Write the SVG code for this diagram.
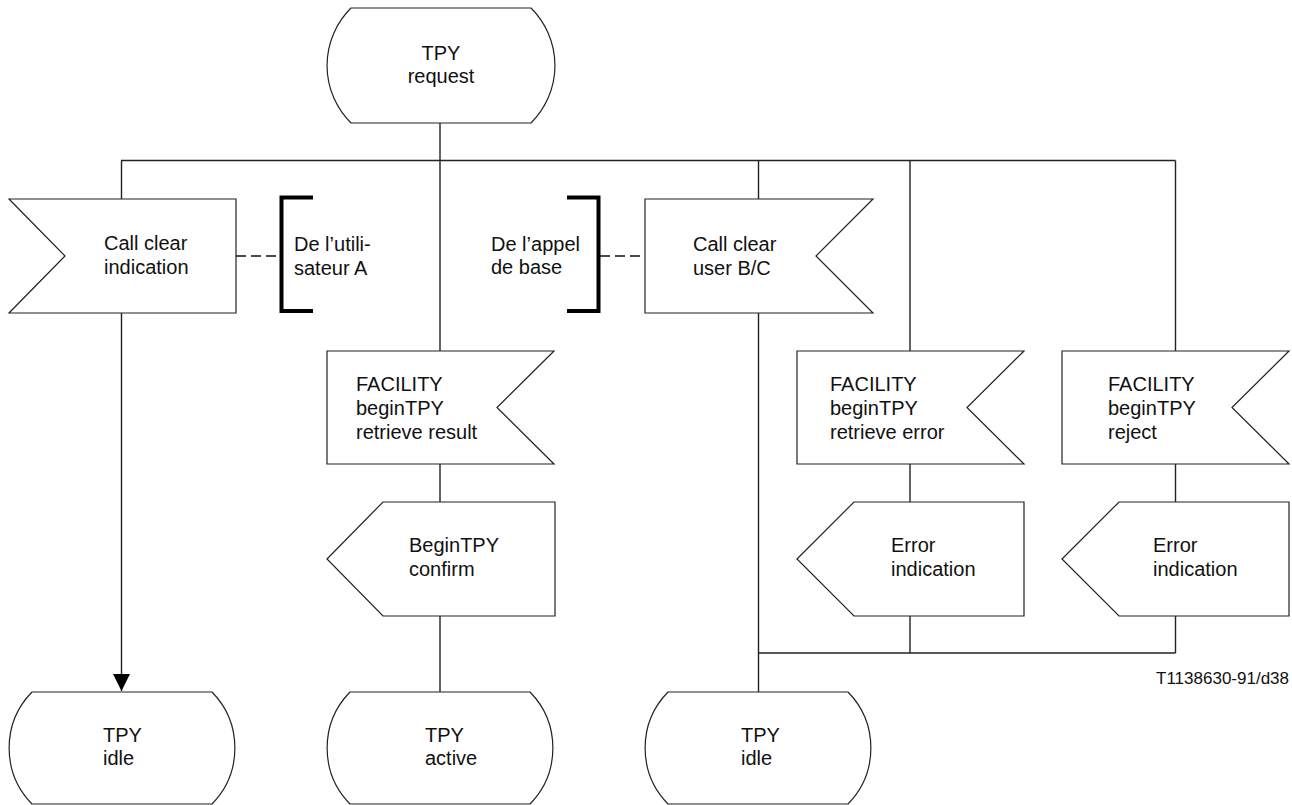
<svg xmlns="http://www.w3.org/2000/svg" width="1292" height="805" viewBox="0 0 1292 805">
<style>
.shape{fill:#fff;stroke:#222;stroke-width:1.2}
.ln{fill:none;stroke:#222;stroke-width:1.4}
.dash{fill:none;stroke:#111;stroke-width:1.6;stroke-dasharray:10,5}
.br{fill:none;stroke:#000;stroke-width:4}
text{font-family:"Liberation Sans",Arial,sans-serif;font-size:20px;fill:#111}
.c{text-anchor:middle}
.lbl{font-size:17px;text-anchor:end}
</style>
<defs>
<marker id="arr" markerWidth="18" markerHeight="18" refX="17" refY="8.5" orient="auto" markerUnits="userSpaceOnUse">
<path d="M0,0 L17,8.5 L0,17 Z" fill="#000"/>
</marker>
</defs>
<g id="connectors">
<path class="ln" d="M440,123 V351"/>
<path class="ln" d="M121,160.5 H1175.5"/>
<path class="ln" d="M121.5,160.5 V199"/>
<path class="ln" d="M121.5,313 V691" marker-end="url(#arr)"/>
<path class="ln" d="M758.5,160.5 V199"/>
<path class="ln" d="M758.5,313 V692"/>
<path class="ln" d="M910,160.5 V351 M910,464 V502 M910,616 V653"/>
<path class="ln" d="M1175.5,160.5 V351 M1175.5,464 V502 M1175.5,616 V653"/>
<path class="ln" d="M758.5,653 H1175.5"/>
<path class="ln" d="M440,464 V502 M440,616 V692"/>
<path class="dash" d="M236,256 H280"/>
<path class="dash" d="M600,256 H645"/>
</g>
<g id="state_request">
<path class="shape" d="M351,8 H531 A81 81 0 0 1 531,123 H351 A81 81 0 0 1 351,8 Z"/>
<text class="c" x="441" y="60">TPY</text>
<text class="c" x="441" y="83">request</text>
</g>
<g id="in_callclear_a">
<polygon class="shape" points="9,199 236,199 236,313 9,313 65,256"/>
<text x="104" y="250">Call clear</text>
<text x="104" y="274">indication</text>
</g>
<g id="comment_user_a">
<path class="br" d="M313,197.5 H281.5 V311 H313"/>
<text x="294" y="251">De l’utili-</text>
<text x="294" y="275">sateur A</text>
</g>
<g id="comment_base">
<path class="br" d="M567,197.5 H598.5 V311 H567"/>
<text x="491" y="251">De l’appel</text>
<text x="491" y="274">de base</text>
</g>
<g id="in_callclear_bc">
<polygon class="shape" points="645,199 873,199 816,256 873,313 645,313"/>
<text x="693" y="251">Call clear</text>
<text x="693" y="275">user B/C</text>
</g>
<g id="in_result">
<polygon class="shape" points="327,351 554,351 497,407.5 554,464 327,464"/>
<text x="356" y="391">FACILITY</text>
<text x="356" y="415">beginTPY</text>
<text x="356" y="439">retrieve result</text>
</g>
<g id="in_error">
<polygon class="shape" points="797,351 1024,351 967,407.5 1024,464 797,464"/>
<text x="830" y="391">FACILITY</text>
<text x="830" y="415">beginTPY</text>
<text x="830" y="439">retrieve error</text>
</g>
<g id="in_reject">
<polygon class="shape" points="1062,351 1289,351 1232,407.5 1289,464 1062,464"/>
<text x="1108" y="391">FACILITY</text>
<text x="1108" y="415">beginTPY</text>
<text x="1108" y="439">reject</text>
</g>
<g id="out_confirm">
<polygon class="shape" points="327,559 383,502 555,502 555,616 383,616"/>
<text x="409" y="552">BeginTPY</text>
<text x="409" y="576">confirm</text>
</g>
<g id="out_error1">
<polygon class="shape" points="797,559 854,502 1024,502 1024,616 854,616"/>
<text x="891" y="552">Error</text>
<text x="891" y="576">indication</text>
</g>
<g id="out_error2">
<polygon class="shape" points="1062,559 1119,502 1289,502 1289,616 1119,616"/>
<text x="1153" y="552">Error</text>
<text x="1153" y="576">indication</text>
</g>
<g id="state_idle1">
<path class="shape" d="M32,692 H212 A80 80 0 0 1 212,804 H32 A80 80 0 0 1 32,692 Z"/>
<text x="103" y="742">TPY</text>
<text x="103" y="765">idle</text>
</g>
<g id="state_active">
<path class="shape" d="M350,692 H530 A80 80 0 0 1 530,804 H350 A80 80 0 0 1 350,692 Z"/>
<text x="425" y="742">TPY</text>
<text x="425" y="765">active</text>
</g>
<g id="state_idle2">
<path class="shape" d="M668,692 H848 A80 80 0 0 1 848,804 H668 A80 80 0 0 1 668,692 Z"/>
<text x="741" y="742">TPY</text>
<text x="741" y="765">idle</text>
</g>
<text class="lbl" x="1289" y="684">T1138630-91/d38</text>
</svg>
